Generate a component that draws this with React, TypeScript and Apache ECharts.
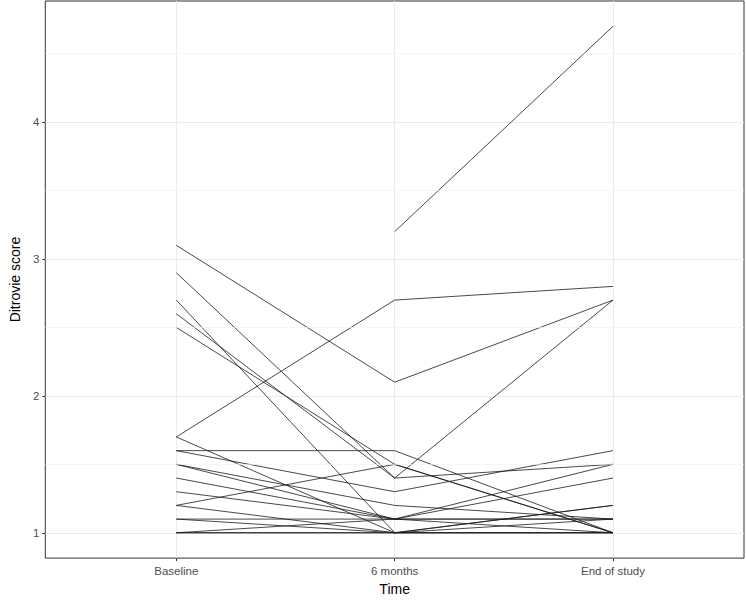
import React, { useEffect, useRef } from "react";
import * as echarts from "echarts";

const timepoints = ["Baseline", "6 months", "End of study"];
const yTicks = [1, 2, 3, 4];
const yMinor = [1.5, 2.5, 3.5, 4.5];

// each subject: [Baseline, 6 months, End of study]
const s01 = [null, 3.2, 4.7];
const s02 = [3.1, 2.1, 2.7];
const s03 = [2.9, 1.4, 1.5];
const s04 = [2.7, 1.0, 1.0];
const s05 = [2.6, 1.4, 2.7];
const s06 = [2.5, 1.5, 1.0];
const s07 = [1.7, 2.7, 2.8];
const s08 = [1.7, 1.0, 1.1];
const s09 = [1.6, 1.6, 1.0];
const s10 = [1.6, 1.3, 1.6];
const s11 = [1.5, 1.1, 1.5];
const s12 = [1.5, 1.2, 1.1];
const s13 = [1.4, 1.1, 1.4];
const s14 = [1.3, 1.1, 1.0];
const s15 = [1.2, 1.5, 1.0];
const s16 = [1.2, 1.0, 1.2];
const s17 = [1.1, 1.1, 1.1];
const s18 = [1.1, 1.0, 1.0];
const s19 = [1.0, 1.0, 1.0];
const s20 = [1.0, 1.1, 1.1];
const s21 = [1.0, 1.0, 1.2];

const subjects = [s01, s02, s03, s04, s05, s06, s07, s08, s09, s10, s11, s12, s13, s14, s15, s16, s17, s18, s19, s20, s21];

export default function App() {
  const ref = useRef<HTMLDivElement>(null);
  useEffect(() => {
    if (!ref.current) return;
    const chart = echarts.init(ref.current, null, { renderer: "svg" });
    const font = "'Liberation Sans', Arial, sans-serif";
    const lineSeries = subjects.map((vals, i) => ({
      type: "line",
      name: "s" + i,
      symbol: "none",
      z: 3,
      lineStyle: { color: "#1a1a1a", width: 0.8 },
      data: vals
        .map((v, j) => (v === null ? null : [j, v]))
        .filter((d) => d !== null),
    }));
    chart.setOption({
      animation: false,
      grid: {
        left: 30,
        top: 1,
        width: 714,
        height: 566,
        show: true,
        borderColor: "#333333",
        borderWidth: 1,
        backgroundColor: "#ffffff",
      },
      xAxis: {
        type: "value",
        min: -0.6,
        max: 2.6,
        name: "Time",
        nameLocation: "middle",
        nameGap: 21,
        nameTextStyle: { color: "#000", fontSize: 14, fontFamily: font },
        axisLine: { show: false, onZero: false },
        axisTick: { show: true, length: 3, customValues: [0, 1, 2], lineStyle: { color: "#333333" } },
        axisLabel: {
          customValues: [0, 1, 2],
          formatter: (v: number) => timepoints[Math.round(v)] ?? "",
          color: "#4d4d4d",
          fontSize: 11.5,
          fontFamily: font,
          margin: 7,
        },
        splitLine: { show: true, lineStyle: { color: "#ebebeb", width: 1 } },
      },
      yAxis: {
        type: "value",
        min: 0.815,
        max: 4.885,
        name: "Ditrovie score",
        nameLocation: "middle",
        nameRotate: 90,
        nameGap: 12,
        nameTextStyle: { color: "#000", fontSize: 14, fontFamily: font },
        axisLine: { show: false, onZero: false },
        axisTick: { show: true, length: 3, customValues: yTicks, lineStyle: { color: "#333333" } },
        axisLabel: {
          customValues: yTicks,
          color: "#4d4d4d",
          fontSize: 11.5,
          fontFamily: font,
          margin: 6,
        },
        splitLine: { show: true, lineStyle: { color: "#ebebeb", width: 1 } },
      },
      series: [
        {
          type: "line",
          name: "minor",
          data: [],
          z: 1,
          markLine: {
            silent: true,
            symbol: "none",
            label: { show: false },
            lineStyle: { color: "#f0f0f0", width: 0.6, type: "solid" },
            data: yMinor.map((v) => ({ yAxis: v })),
          },
        },
        ...lineSeries,
      ],
    });
    return () => chart.dispose();
  }, []);
  return <div ref={ref} style={{ width: 746, height: 601, position: "absolute", left: 0, top: 0 }} />;
}
